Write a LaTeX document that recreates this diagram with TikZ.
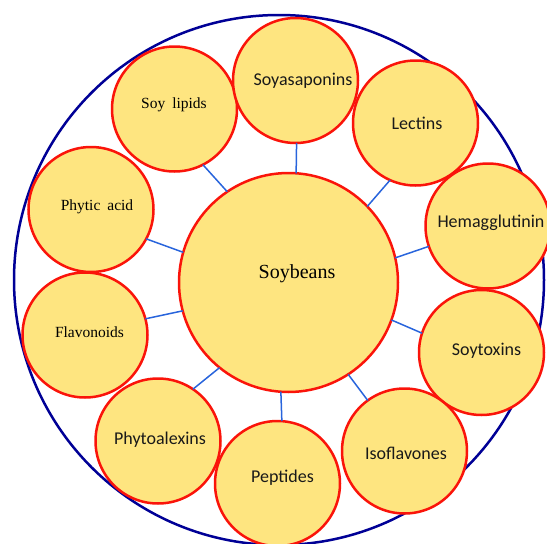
\documentclass[tikz,border=0pt]{standalone}
\usepackage{fontspec}
\setmainfont{Liberation Serif}
\newfontfamily\calib{Carlito}
\definecolor{fillyel}{RGB}{254,229,128}
\definecolor{ringred}{RGB}{250,20,10}
\definecolor{linkblue}{RGB}{40,100,220}
\definecolor{navy}{RGB}{0,0,150}
\tikzset{
  sat/.style={circle, draw=ringred, line width=2.5pt, fill=fillyel, minimum size=125pt, inner sep=0pt, outer sep=0pt},
  hub/.style={circle, draw=ringred, line width=2.5pt, fill=fillyel, minimum size=219pt, inner sep=0pt, outer sep=0pt},
  serlab/.style={font=\fontsize{15.5}{18}\selectfont, text=black, inner sep=0pt},
  callab/.style={font=\calib\fontsize{18}{21}\selectfont, text=black!90, inner sep=0pt},
  hublab/.style={font=\fontsize{20}{24}\selectfont, text=black, inner sep=0pt},
  link/.style={draw=linkblue, line width=1.5pt},
  rim/.style={draw=navy, line width=2.5pt}
}
\newcommand{\wsp}{\hspace{0.45em}}
\begin{document}
\begin{tikzpicture}[x=1pt,y=-1pt]
\useasboundingbox (0,0) rectangle (547,544);
\node[circle, rim, minimum size=530pt, inner sep=0pt] (outer) at (279,280) {};
% circles
\node[hub] (sb) at (288.5,282.5) {};
\node[sat] (lip) at (174.5,109) {};
\node[sat] (sap) at (295.5,80.5) {};
\node[sat] (lec) at (415.5,123) {};
\node[sat] (hem) at (488,226) {};
\node[sat] (tox) at (481.5,352.5) {};
\node[sat] (iso) at (404.5,451) {};
\node[sat] (pep) at (277.5,483.5) {};
\node[sat] (phx) at (158,441) {};
\node[sat] (fla) at (85,335) {};
\node[sat] (phy) at (91,209.5) {};
% connectors
\draw[link] (sb.124.5) -- (lip.-63.8);
\draw[link] (sb.86) -- (sap.-89);
\draw[link] (sb.44.6) -- (lec.-114.2);
\draw[link] (sb.13.2) -- (hem.-161);
\draw[link] (sb.-20.4) -- (tox.162.4);
\draw[link] (sb.-57.7) -- (iso.126.3);
\draw[link] (sb.-94) -- (pep.86.8);
\draw[link] (sb.-129.9) -- (phx.56.6);
\draw[link] (sb.-165) -- (fla.15.3);
\draw[link] (sb.164.5) -- (phy.-28.6);
% labels
\node[hublab] (tsb) at (297,274) {Soybeans};
\node[serlab] (tlip) at (174,105) {Soy\wsp lipids};
\node[callab] (tsap) at (303,81) {Soyasaponins};
\node[callab] (tlec) at (417,123) {Lectins};
\node[callab] (them) at (491,223) {Hemagglutinin};
\node[callab] (ttox) at (486.5,351) {Soytoxins};
\node[callab] (tiso) at (406,453) {Isoflavones};
\node[callab] (tpep) at (282.5,478) {Peptides};
\node[callab] (tphx) at (160,440) {Phytoalexins};
\node[serlab] (tfla) at (89.5,332) {Flavonoids};
\node[serlab] (tphy) at (97,207) {Phytic\wsp acid};
\end{tikzpicture}
\end{document}
